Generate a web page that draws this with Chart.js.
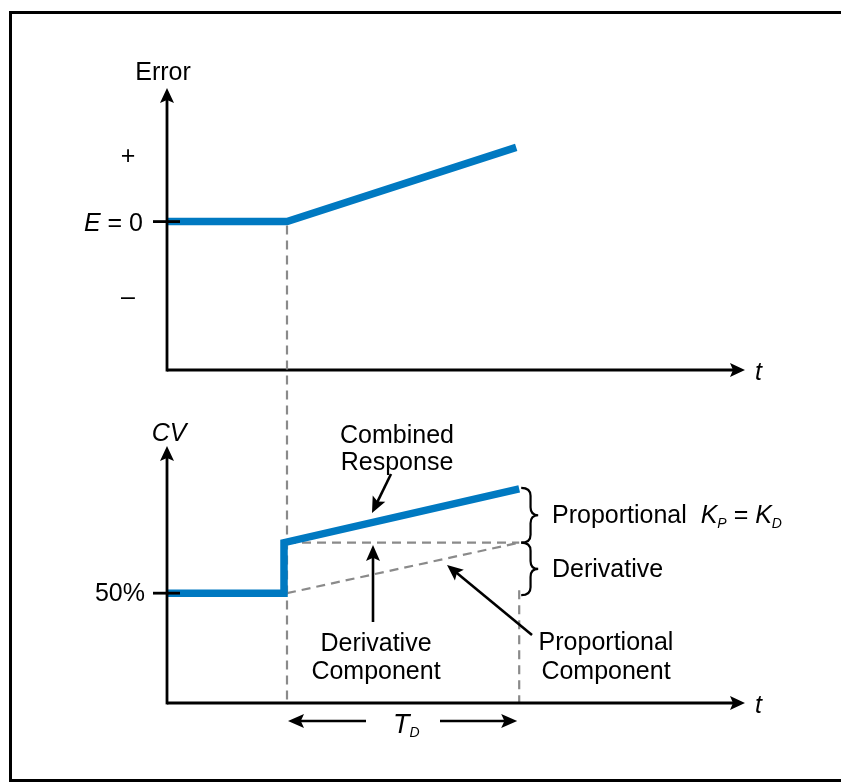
<!DOCTYPE html>
<html>
<head>
<meta charset="utf-8">
<script src="https://cdn.jsdelivr.net/npm/chart.js@4.4.1/dist/chart.umd.min.js"></script>
<style>
  html, body { margin: 0; padding: 0; background: #fff; }
  #wrap { position: relative; width: 841px; height: 783px; overflow: hidden; }
  #frame { position: absolute; left: 9px; top: 11px; width: 900px; height: 765px; border: 3px solid #000; }
  canvas { position: absolute; left: 0; top: 0; }
</style>
</head>
<body>
<div id="wrap">
  <div id="frame"></div>
  <canvas id="errorChart" width="841" height="783"></canvas>
  <canvas id="cvChart" width="841" height="783"></canvas>
</div>
<script>
// Error (top panel)
const errTime = [0, 2, 5.82];
const errValues = [0, 0, 1.0];
const errTickValues = [0.9, 0, -1];
const errTickLabels = ['+', 'E = 0', '–'];

// Controller output (bottom panel)
const cvTime = [0, 1.95, 1.95, 5.87];
const cvValues = [50, 50, 73, 97.5];
const derivTime = [2, 5.87];
const derivValues = [73, 73];
const propTime = [2, 5.87];
const propValues = [50, 73];
const cvTickValues = [50];
const cvTickLabels = ['50%'];
const tdSpan = [2, 5.87];

const FONT = '"Liberation Sans", Arial, Helvetica, sans-serif';
const BLUE = '#0079c1';
const GREY = '#8a8a8a';
const SIZE = 25;

const pts = (xs, ys) => xs.map((x, i) => ({ x, y: ys[i] }));

function line(ctx, x1, y1, x2, y2) {
    ctx.beginPath();
    ctx.moveTo(x1, y1);
    ctx.lineTo(x2, y2);
    ctx.stroke();
}

function arrow(ctx, x1, y1, x2, y2, head = 16, half = 7) {
    const a = Math.atan2(y2 - y1, x2 - x1);
    line(ctx, x1, y1, x2 - Math.cos(a) * head * 0.7, y2 - Math.sin(a) * head * 0.7);
    ctx.save();
    ctx.translate(x2, y2);
    ctx.rotate(a);
    ctx.beginPath();
    ctx.moveTo(0, 0);
    ctx.lineTo(-head, -half);
    ctx.lineTo(-head * 0.8, 0);
    ctx.lineTo(-head, half);
    ctx.closePath();
    ctx.fill();
    ctx.restore();
}

// parts: [text, style, size, dy]
function runs(ctx, x, y, parts, align) {
    const font = p => `${p[1]} ${p[2]}px ${FONT}`;
    let w = 0;
    parts.forEach(p => { ctx.font = font(p); w += ctx.measureText(p[0]).width; });
    let cx = align === 'right' ? x - w : align === 'center' ? x - w / 2 : x;
    ctx.textAlign = 'left';
    ctx.textBaseline = 'alphabetic';
    parts.forEach(p => {
        ctx.font = font(p);
        ctx.fillText(p[0], cx, y + (p[3] || 0));
        cx += ctx.measureText(p[0]).width;
    });
}

function text(ctx, s, x, y, align = 'center') {
    runs(ctx, x, y, [[s, 'normal', SIZE]], align);
}

function drawAxes(ctx, a) {
    ctx.lineWidth = 2.8;
    arrow(ctx, a.left, a.bottom + 1.4, a.left, a.top, 15, 7);
    arrow(ctx, a.left, a.bottom, a.right + 2, a.bottom, 15, 7);
    runs(ctx, 755, a.bottom + 10, [['t', 'italic', SIZE]], 'left');
}

function brace(ctx, x0, y0, y1, w) {
    const xm = x0 + w * 0.55, x1 = x0 + w, ym = (y0 + y1) / 2, r = 8;
    ctx.beginPath();
    ctx.moveTo(x0, y0);
    ctx.quadraticCurveTo(xm, y0, xm, y0 + r);
    ctx.lineTo(xm, ym - r);
    ctx.quadraticCurveTo(xm, ym, x1, ym);
    ctx.quadraticCurveTo(xm, ym, xm, ym + r);
    ctx.lineTo(xm, y1 - r);
    ctx.quadraticCurveTo(xm, y1, x0, y1);
    ctx.stroke();
}

function baseOptions(padTop, padBottom, yMin, yMax) {
    return {
        responsive: false,
        animation: false,
        layout: { padding: { left: 167, right: 98, top: padTop, bottom: padBottom } },
        plugins: { legend: { display: false }, tooltip: { enabled: false } },
        scales: {
            x: { type: 'linear', min: 0, max: 9.6, display: false },
            y: { type: 'linear', min: yMin, max: yMax, display: false }
        }
    };
}

const errPlugin = {
    id: 'errPlugin',
    afterDraw(chart) {
        const { ctx, chartArea: a, scales: { y } } = chart;
        ctx.save();
        ctx.strokeStyle = '#000';
        ctx.fillStyle = '#000';
        drawAxes(ctx, a);
        const y0 = y.getPixelForValue(0);
        line(ctx, a.left - 14, y0, a.left + 13, y0);
        text(ctx, 'Error', a.left - 4, a.top - 8);
        errTickValues.forEach((v, i) => {
            const py = y.getPixelForValue(v);
            const lab = errTickLabels[i];
            if (lab.startsWith('E')) {
                runs(ctx, a.left - 24, py + 9, [['E', 'italic', SIZE], [lab.slice(1), 'normal', SIZE]], 'right');
            } else {
                text(ctx, lab, 128, py + 9);
            }
        });
        ctx.restore();
    }
};

let errChart;

const cvPlugin = {
    id: 'cvPlugin',
    beforeDatasetsDraw(chart) {
        const { ctx, chartArea: a, scales: { x, y } } = chart;
        ctx.save();
        ctx.strokeStyle = GREY;
        ctx.lineWidth = 2.2;
        ctx.setLineDash([9, 6]);
        const xa = x.getPixelForValue(tdSpan[0]);
        const xb = x.getPixelForValue(tdSpan[1]);
        const topY = errChart.scales.y.getPixelForValue(0) + 4;
        line(ctx, xa, topY, xa, a.bottom);
        line(ctx, xb, y.getPixelForValue(propValues[0]) - 3, xb, a.bottom);
        ctx.restore();
    },
    afterDraw(chart) {
        const { ctx, chartArea: a, scales: { x, y } } = chart;
        ctx.save();
        ctx.strokeStyle = '#000';
        ctx.fillStyle = '#000';
        drawAxes(ctx, a);
        cvTickValues.forEach((v, i) => {
            const py = y.getPixelForValue(v);
            line(ctx, a.left - 14, py, a.left + 13, py);
            text(ctx, cvTickLabels[i], a.left - 22, py + 8, 'right');
        });
        runs(ctx, a.left + 2, a.top - 5, [['CV', 'italic', SIZE]], 'center');

        // braces
        ctx.lineWidth = 2.2;
        const xe = x.getPixelForValue(cvTime[cvTime.length - 1]);
        const yTop = y.getPixelForValue(cvValues[cvValues.length - 1]);
        const yMid = y.getPixelForValue(derivValues[0]);
        const yLow = y.getPixelForValue(propValues[0]);
        brace(ctx, xe + 2, yTop - 1, yMid, 17);
        brace(ctx, xe + 2, yMid, yLow + 2, 17);
        runs(ctx, 552, 523, [['Proportional  ', 'normal', SIZE], ['K', 'italic', SIZE], ['P', 'italic', 14, 5],
            [' = ', 'normal', SIZE], ['K', 'italic', SIZE], ['D', 'italic', 14, 5]], 'left');
        text(ctx, 'Derivative', 552, 577, 'left');

        // annotations
        text(ctx, 'Combined', 397, 443);
        text(ctx, 'Response', 397, 470);
        text(ctx, 'Derivative', 376, 651);
        text(ctx, 'Component', 376, 679);
        text(ctx, 'Proportional', 606, 650);
        text(ctx, 'Component', 606, 679);

        ctx.lineWidth = 2.6;
        arrow(ctx, 391, 474, 372, 513);
        arrow(ctx, 373, 622, 373, 545);
        arrow(ctx, 532, 635, 447, 565);

        // T_D span
        const xa = x.getPixelForValue(tdSpan[0]);
        const xb = x.getPixelForValue(tdSpan[1]);
        arrow(ctx, 366, 721, xa + 1, 721);
        arrow(ctx, 440, 721, xb - 2, 721);
        runs(ctx, 393, 733, [['T', 'italic', 27], ['D', 'italic', 14, 4]], 'left');
        ctx.restore();
    }
};

errChart = new Chart(document.getElementById('errorChart'), {
    type: 'line',
    data: {
        datasets: [{
            data: pts(errTime, errValues),
            borderColor: BLUE,
            borderWidth: 7.5,
            pointRadius: 0,
            tension: 0,
            borderJoinStyle: 'miter'
        }]
    },
    options: baseOptions(88, 783 - 370, -2, 1.8),
    plugins: [errPlugin]
});

new Chart(document.getElementById('cvChart'), {
    type: 'line',
    data: {
        datasets: [
            {
                data: pts(cvTime, cvValues),
                borderColor: BLUE,
                borderWidth: 7.5,
                pointRadius: 0,
                tension: 0,
                borderJoinStyle: 'miter'
            },
            {
                data: pts(derivTime, derivValues),
                borderColor: GREY,
                borderWidth: 2.2,
                borderDash: [9, 6],
                pointRadius: 0
            },
            {
                data: pts(propTime, propValues),
                borderColor: GREY,
                borderWidth: 2.2,
                borderDash: [9, 6],
                pointRadius: 0
            }
        ]
    },
    options: baseOptions(446, 80, 0, 117),
    plugins: [cvPlugin]
});
</script>
</body>
</html>
